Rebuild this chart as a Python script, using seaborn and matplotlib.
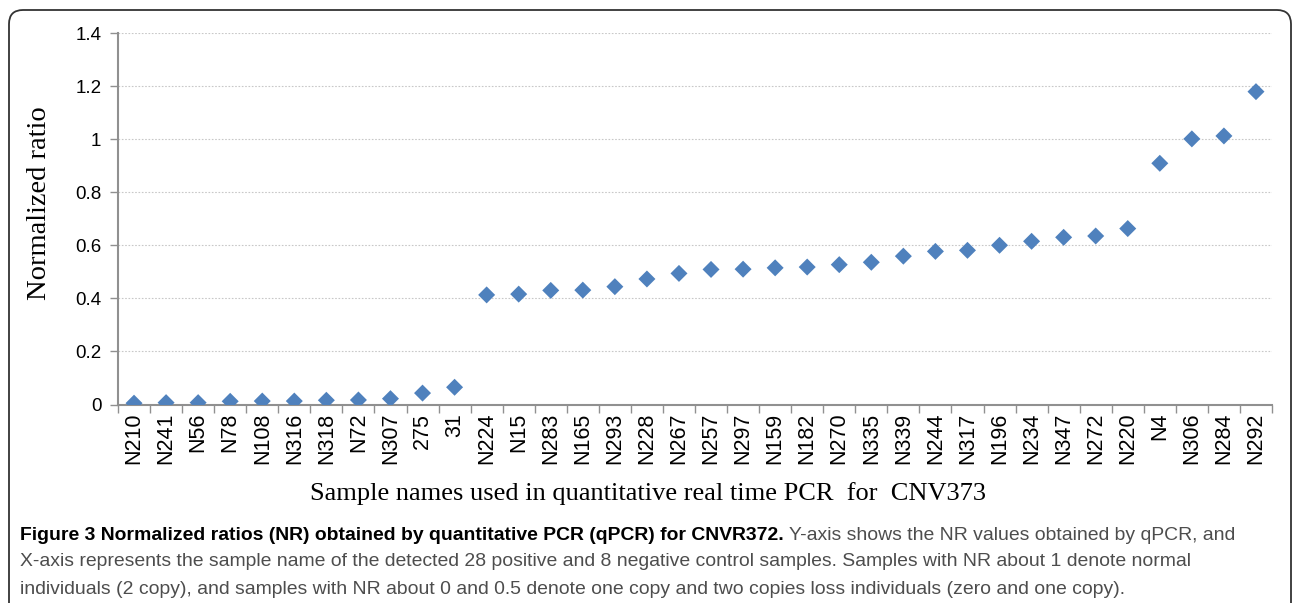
import numpy as np
import pandas as pd
import matplotlib
matplotlib.use("Agg")
import matplotlib.pyplot as plt
import seaborn as sns
from matplotlib.patches import FancyBboxPatch
from matplotlib.transforms import IdentityTransform

samples = ["N210", "N241", "N56", "N78", "N108", "N316", "N318", "N72", "N307", "275", "31",
           "N224", "N15", "N283", "N165", "N293", "N228", "N267", "N257", "N297", "N159",
           "N182", "N270", "N335", "N339", "N244", "N317", "N196", "N234", "N347", "N272",
           "N220", "N4", "N306", "N284", "N292"]
ratios = [0.005, 0.007, 0.007, 0.012, 0.013, 0.013, 0.016, 0.017, 0.022, 0.043, 0.065,
          0.413, 0.416, 0.430, 0.431, 0.444, 0.473, 0.494, 0.509, 0.510, 0.515,
          0.518, 0.527, 0.536, 0.559, 0.577, 0.581, 0.600, 0.615, 0.630, 0.635,
          0.663, 0.909, 1.001, 1.012, 1.179]
y_ticks = [0, 0.2, 0.4, 0.6, 0.8, 1.0, 1.2, 1.4]
y_tick_labels = ["0", "0.2", "0.4", "0.6", "0.8", "1", "1.2", "1.4"]

x_title = "Sample names used in quantitative real time PCR  for  CNV373"
y_title = "Normalized ratio"
caption_bold = "Figure 3 Normalized ratios (NR) obtained by quantitative PCR (qPCR) for CNVR372."
caption_lines = [" Y-axis shows the NR values obtained by qPCR, and",
                 "X-axis represents the sample name of the detected 28 positive and 8 negative control samples. Samples with NR about 1 denote normal",
                 "individuals (2 copy), and samples with NR about 0 and 0.5 denote one copy and two copies loss individuals (zero and one copy)."]

df = pd.DataFrame({"Sample": samples, "NR": ratios})

sns.set_style("white")
W, H = 1292, 603
fig = plt.figure(figsize=(W / 100, H / 100), dpi=100)
ax = fig.add_axes([118 / W, 1 - 404.5 / H, (1272 - 118) / W, (404.5 - 33) / H])

sns.scatterplot(data=df, x="Sample", y="NR", marker="D", s=75, color="#4F81BD",
                edgecolor="none", linewidth=0, ax=ax, legend=False, zorder=3)

ax.set_xlim(-0.5, len(samples) - 0.5)
ax.set_ylim(0, 1.4)
ax.set_yticks(y_ticks)
ax.set_yticklabels(y_tick_labels, fontsize=13.5, family="Liberation Sans", color="black")
ax.set_xticks(range(len(samples)))
ax.set_xticklabels(samples, rotation=90, fontsize=15.5, family="Liberation Sans", color="black")
ax.set_xticks(np.arange(-0.5, len(samples)), minor=True)
ax.tick_params(axis="x", which="major", bottom=True, length=0, pad=6)
ax.tick_params(axis="x", which="minor", bottom=True, length=6, width=1, color="#909090", direction="out")
ax.tick_params(axis="y", left=True, length=6, width=1, color="#909090", direction="out", pad=6)
ax.grid(axis="y", linestyle=(0, (1.5, 1.5)), color="#c8c8c8", linewidth=0.8)
ax.grid(axis="x", visible=False)
ax.set_axisbelow(True)
for s in ["top", "right"]:
    ax.spines[s].set_visible(False)
for s in ["left", "bottom"]:
    ax.spines[s].set_color("#909090")
    ax.spines[s].set_linewidth(1.5)
ax.set_xlabel("")
ax.set_ylabel("")

fig.text(40 / W, 1 - 203 / H, y_title, rotation=90, ha="center", va="center",
         family="Liberation Serif", fontsize=20.5, color="black")
fig.text(648 / W, 1 - 494 / H, x_title, ha="center", va="center",
         family="Liberation Serif", fontsize=19, color="black")

# frame round the whole figure
frame = FancyBboxPatch((9, -30), 1282, H - 10 + 30, boxstyle="round,pad=0,rounding_size=14",
                       transform=IdentityTransform(), fill=False, edgecolor="#333333",
                       linewidth=1.3, figure=fig)
fig.patches.append(frame)

# caption, sized so the lines fill the box width
cap_font = "Liberation Sans"
fig.canvas.draw()
pb = fig.text(0, 0, caption_bold, family=cap_font, fontsize=10, weight="bold")
p0 = fig.text(0, 0, caption_lines[0], family=cap_font, fontsize=10)
p1 = fig.text(0, 0, caption_lines[1], family=cap_font, fontsize=10)
fig.canvas.draw()
w_line1 = pb.get_window_extent().width + p0.get_window_extent().width
w_line2 = p1.get_window_extent().width
for p in (pb, p0, p1):
    p.remove()
cap_size = 10 * min((1233 - 20) / w_line2, (1233 - 20) / w_line1)

t1 = fig.text(20 / W, 1 - 535 / H, caption_bold, family=cap_font, fontsize=cap_size,
              weight="bold", color="black", va="center")
fig.canvas.draw()
x_end = t1.get_window_extent().x1
fig.text(x_end / W, 1 - 535 / H, caption_lines[0], family=cap_font, fontsize=cap_size,
         color="#4d4d4d", va="center")
fig.text(20 / W, 1 - 562 / H, caption_lines[1], family=cap_font, fontsize=cap_size,
         color="#4d4d4d", va="center")
fig.text(20 / W, 1 - 589 / H, caption_lines[2], family=cap_font, fontsize=cap_size,
         color="#4d4d4d", va="center")

fig.savefig("out.png", dpi=100)
